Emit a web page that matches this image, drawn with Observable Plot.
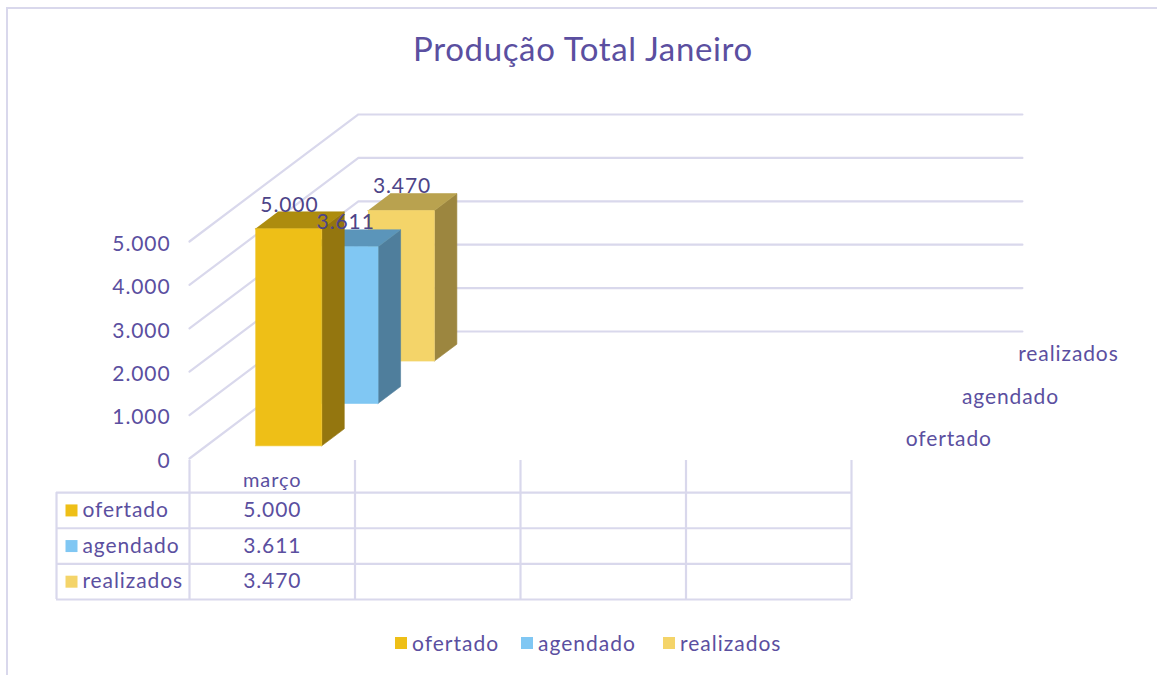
<!DOCTYPE html>
<html lang="pt">
<head>
<meta charset="utf-8">
<script src="https://cdn.jsdelivr.net/npm/d3@7"></script>
<script src="https://cdn.jsdelivr.net/npm/@observablehq/plot@0.6"></script>
<style>
  html, body { margin: 0; padding: 0; background: #fff; overflow: hidden; }
  body { width: 1157px; height: 675px; position: relative; font-family: Lato, sans-serif; color: #5b4fa0; }
  #frame { position: absolute; left: 6px; top: 7px; right: -4px; bottom: -4px; border: 2px solid #d9d8ec; pointer-events: none; }
  #title { height: 84px; box-sizing: border-box; padding-top: 26px; text-align: center; font-size: 33px; line-height: 44px; letter-spacing: 0.65px; width: 1166px; }
  #chart, #table { height: auto; display: block; }
  #chart svg, #table svg { display: block; overflow: visible; background: transparent; letter-spacing: 0.9px; }
  #legend { position: absolute; left: 395px; top: 630px; display: flex; font-size: 21px; line-height: 26px; letter-spacing: 1px; }
  .item { display: flex; align-items: center; gap: 5px; }
  .item i { display: block; width: 12px; height: 12px; }
</style>
</head>
<body>
<div id="frame"></div>
<div id="title">Produção Total Janeiro</div>
<div id="chart"></div>
<div id="table"></div>
<div id="legend"></div>
<script>
const title = "Produção Total Janeiro";
const months = ["março"];
const seriesNames = ["ofertado", "agendado", "realizados"];
const seriesValues = [5000, 3611, 3470];
const valueTicks = [0, 1000, 2000, 3000, 4000, 5000];
const frontColors = ["#eebf17", "#80c7f3", "#f4d469"];
const sideColors = ["#94760f", "#4f7e9c", "#9c863f"];
const topColors = ["#ad8c0e", "#5b95ba", "#b9a24f"];

const ptBR = d3.formatLocale({decimal: ",", thousands: ".", grouping: [3], currency: ["", ""]});
const fmt = ptBR.format(",d");

const ink = "#5b4fa0", labelInk = "#4d4488", gridInk = "#d9d8ec";
const font = "Lato, sans-serif";

// Oblique 3D projection expressed in data units: u = category, d = depth slot, v = value.
const catCount = 4, depthSlots = 3;
const depthU = 56.3 / 166;     // category units per depth slot
const depthV = 42.4 / 0.04346; // value units per depth slot
const px = (u, d) => u + d * depthU;
const py = (v, d) => v + d * depthV;

const faces = [];
function face(id, color, corners) {
  for (const [u, d, v] of corners) faces.push({face: id, color, x: px(u, d), y: py(v, d)});
}
// back to front so nearer bars cover farther ones
for (let s = seriesNames.length - 1; s >= 0; s--) {
  const v = seriesValues[s];
  const u0 = 0.295, u1 = 0.695, d0 = s + 0.3, d1 = s + 0.7;
  face(`${s}-side`, sideColors[s], [[u1, d0, 0], [u1, d1, 0], [u1, d1, v], [u1, d0, v]]);
  face(`${s}-top`, topColors[s], [[u0, d0, v], [u1, d0, v], [u1, d1, v], [u0, d1, v]]);
  face(`${s}-front`, frontColors[s], [[u0, d0, 0], [u1, d0, 0], [u1, d0, v], [u0, d0, v]]);
}

const grid = valueTicks.flatMap(v => [
  {v, x: px(0, 0), y: py(v, 0)},
  {v, x: px(0, depthSlots), y: py(v, depthSlots)},
  {v, x: px(catCount, depthSlots), y: py(v, depthSlots)}
]);

const barLabels = seriesNames.map((name, s) => ({
  text: fmt(seriesValues[s]), x: px(0.5, s + 0.3), y: py(seriesValues[s], s + 0.3)
}));
const depthLabels = seriesNames.map((name, s) => ({
  text: name, x: px(catCount, s + 0.5), y: py(0, s + 0.5)
}));

document.getElementById("chart").append(Plot.plot({
  width: 1157, height: 376,
  marginLeft: 189, marginRight: 135, marginTop: 0, marginBottom: 0,
  style: {fontFamily: font, background: "transparent", overflow: "visible"},
  x: {domain: [0, catCount], range: [189, 853], axis: null},
  y: {domain: [0, 5000], range: [374, 157], axis: null},
  color: {type: "identity"},
  marks: [
    Plot.line(grid, {x: "x", y: "y", z: "v", stroke: gridInk, strokeWidth: 2.2}),
    Plot.line(faces, {x: "x", y: "y", z: "face", fill: "color", stroke: "color", strokeWidth: 0.6}),
    Plot.axisY({ticks: valueTicks, tickFormat: fmt, anchor: "left", tickSize: 0, tickPadding: 19, dy: 2.5, fontSize: 21, fill: ink, label: null}),
    Plot.text(barLabels, {x: "x", y: "y", text: "text", dy: -24, fontSize: 21, fill: labelInk}),
    Plot.text(depthLabels, {x: "x", y: "y", text: "text", textAnchor: "start", dx: 24, dy: 2, fontSize: 21, fill: ink})
  ]
}));

// Data table below the axis
const rowIdx = seriesNames.map((_, i) => i);
const leftEdge = -0.8036;
const tableRows = [0, 1, 2, 3];
const tableCols = [0, 1, 2, 3, 4];
document.getElementById("table").append(Plot.plot({
  width: 1157, height: 139,
  marginLeft: 56, marginRight: 306, marginTop: 0, marginBottom: 0,
  style: {fontFamily: font, background: "transparent", overflow: "visible"},
  x: {domain: [0, catCount], range: [189, 851], axis: null},
  y: {domain: [-0.9014, 3], range: [0, 139], axis: null},
  marks: [
    Plot.ruleX(tableCols, {x: d => d, y1: -0.9014, y2: 3, stroke: gridInk, strokeWidth: 2.2}),
    Plot.ruleX([leftEdge], {x: d => d, y1: 0, y2: 3, stroke: gridInk, strokeWidth: 2.2}),
    Plot.ruleY(tableRows, {y: d => d, x1: leftEdge, x2: catCount, stroke: gridInk, strokeWidth: 2.2}),
    Plot.dot(rowIdx, {x: () => leftEdge, y: d => d + 0.5, dx: 15, symbol: "square", r: 6.77, fill: d => frontColors[d], stroke: "none"}),
    Plot.text(rowIdx, {x: () => leftEdge, y: d => d + 0.5, dx: 26, text: d => seriesNames[d], textAnchor: "start", fontSize: 21, fill: ink}),
    Plot.text(rowIdx, {x: () => 0.5, y: d => d + 0.5, text: d => fmt(seriesValues[d]), fontSize: 21, fill: ink}),
    Plot.text(months, {x: () => 0.5, y: () => -0.33, text: d => d, fontSize: 20, fill: ink})
  ]
}));

const legendWidths = [126, 142, 120];
const legend = document.getElementById("legend");
seriesNames.forEach((name, i) => {
  const item = document.createElement("div");
  item.className = "item";
  item.style.width = legendWidths[i] + "px";
  const sw = document.createElement("i");
  sw.style.background = frontColors[i];
  const label = document.createElement("span");
  label.textContent = name;
  item.append(sw, label);
  legend.append(item);
});
document.getElementById("title").textContent = title;
</script>
</body>
</html>
